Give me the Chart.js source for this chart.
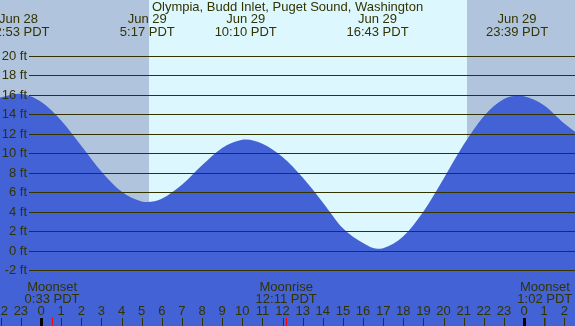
<!DOCTYPE html>
<html>
<head>
<meta charset="utf-8">
<script src="https://cdn.jsdelivr.net/npm/chart.js@4"></script>
<style>
html,body{margin:0;padding:0;background:#B0C4DE;}
#wrap{width:575px;height:326px;position:relative;}
canvas{display:block;}
</style>
</head>
<body>
<div id="wrap"><canvas id="c" width="575" height="326"></canvas></div>
<script>
// ---- data (hours relative to Jun 29 00:00 PDT) ----
const chartTitle = "Olympia, Budd Inlet, Puget Sound, Washington";
const tideHours = [-2.04, -1.12, 0, 1, 2, 3, 4, 5, 5.28, 6, 7, 8, 9, 10, 10.17, 11, 12, 13, 14, 15, 16, 16.72, 17, 18, 19, 20, 21, 22, 23, 23.65, 24, 25, 26, 26.53];
const tideFeet  = [15.7, 16.1, 15.28, 13.36, 10.77, 8.13, 6.06, 5.05, 5.0, 5.34, 6.76, 8.76, 10.54, 11.38, 11.4, 10.96, 9.6, 7.5, 4.95, 2.3, 0.8, 0.2, 0.26, 1.49, 4.03, 7.39, 10.88, 13.8, 15.56, 15.9, 15.83, 14.9, 13.04, 12.2];

const extremeHours = [-1.12, 5.28, 10.17, 16.72, 23.65];
const extremeDates = ["Jun 28", "Jun 29", "Jun 29", "Jun 29", "Jun 29"];
const extremeTimes = ["22:53 PDT", "5:17 PDT", "10:10 PDT", "16:43 PDT", "23:39 PDT"];

const moonHours  = [0.55, 12.18, 25.03];
const moonEvents = ["Moonset", "Moonrise", "Moonset"];
const moonTimes  = ["0:33 PDT", "12:11 PDT", "1:02 PDT"];

const sunriseHour = 5.37;
const sunsetHour  = 21.17;

const yTickFeet   = [-2, 0, 2, 4, 6, 8, 10, 12, 14, 16, 18, 20];
const hourTicks   = [-2,-1,0,1,2,3,4,5,6,7,8,9,10,11,12,13,14,15,16,17,18,19,20,21,22,23,24,25,26];
const hourLabels  = ["22","23","0","1","2","3","4","5","6","7","8","9","10","11","12","13","14","15","16","17","18","19","20","21","22","23","0","1","2"];

// ---- style ----
const NIGHT = "#B0C4DE", DAY = "#DDF7FF", WATER = "rgb(66,98,214)", INK = "#333300";
const FONT = "13px 'Liberation Sans', Arial, sans-serif";

const overlay = {
  id: "overlay",
  beforeDraw(chart) {
    const ctx = chart.ctx, xs = chart.scales.x;
    ctx.save();
    ctx.fillStyle = NIGHT;
    ctx.fillRect(0, 0, chart.width, chart.height);
    const x1 = Math.round(xs.getPixelForValue(sunriseHour));
    const x2 = Math.round(xs.getPixelForValue(sunsetHour));
    ctx.fillStyle = DAY;
    ctx.fillRect(x1, 0, x2 - x1, chart.height);
    ctx.restore();
  },
  afterDatasetsDraw(chart) {
    const ctx = chart.ctx, xs = chart.scales.x, ys = chart.scales.y;
    const W = chart.width, H = chart.height;
    ctx.save();
    ctx.font = FONT;
    ctx.fillStyle = INK;
    ctx.strokeStyle = INK;
    ctx.lineWidth = 1;
    ctx.textAlign = "right";
    ctx.textBaseline = "middle";
    yTickFeet.forEach(f => {
      const y = Math.round(ys.getPixelForValue(f)) + 0.5;
      ctx.beginPath();
      ctx.moveTo(29, y); ctx.lineTo(W, y);
      ctx.stroke();
      ctx.fillText(f + " ft", 27, y);
    });
    ctx.textAlign = "center";
    ctx.fillText(chartTitle, W / 2, 7.5);
    extremeHours.forEach((h, i) => {
      const x = xs.getPixelForValue(h);
      ctx.fillText(extremeDates[i], x, 19.5);
      ctx.fillText(extremeTimes[i], x, 32);
    });
    moonHours.forEach((h, i) => {
      const x = xs.getPixelForValue(h);
      ctx.fillText(moonEvents[i], x, 287.5);
      ctx.fillText(moonTimes[i], x, 299.5);
    });
    hourTicks.forEach((h, i) => {
      const x = xs.getPixelForValue(h);
      ctx.fillStyle = INK;
      ctx.fillText(hourLabels[i], x, 311.5);
      if (hourLabels[i] === "0") {
        ctx.fillStyle = "#000000";
        ctx.fillRect(Math.round(x) - 1, 318, 3, H - 318);
      } else {
        ctx.fillStyle = INK;
        ctx.fillRect(Math.round(x), 318, 1, H - 318);
      }
    });
    moonHours.forEach(h => {
      const x = xs.getPixelForValue(h);
      ctx.fillStyle = "#FF0000";
      ctx.fillRect(Math.round(x), 318, 1, H - 318);
    });
    ctx.restore();
  }
};

new Chart(document.getElementById("c"), {
  type: "line",
  data: {
    datasets: [{
      data: tideHours.map((h, i) => ({ x: h, y: tideFeet[i] })),
      borderWidth: 0,
      borderColor: WATER,
      backgroundColor: WATER,
      pointRadius: 0,
      fill: "start",
      cubicInterpolationMode: "monotone"
    }]
  },
  options: {
    responsive: false,
    animation: false,
    events: [],
    layout: { padding: 0 },
    plugins: { legend: { display: false }, tooltip: { enabled: false }, title: { display: false } },
    scales: {
      x: { type: "linear", min: -2.037, max: 26.53, display: false },
      y: { type: "linear", min: -7.72, max: 25.71, display: false }
    }
  },
  plugins: [overlay]
});
</script>
</body>
</html>
